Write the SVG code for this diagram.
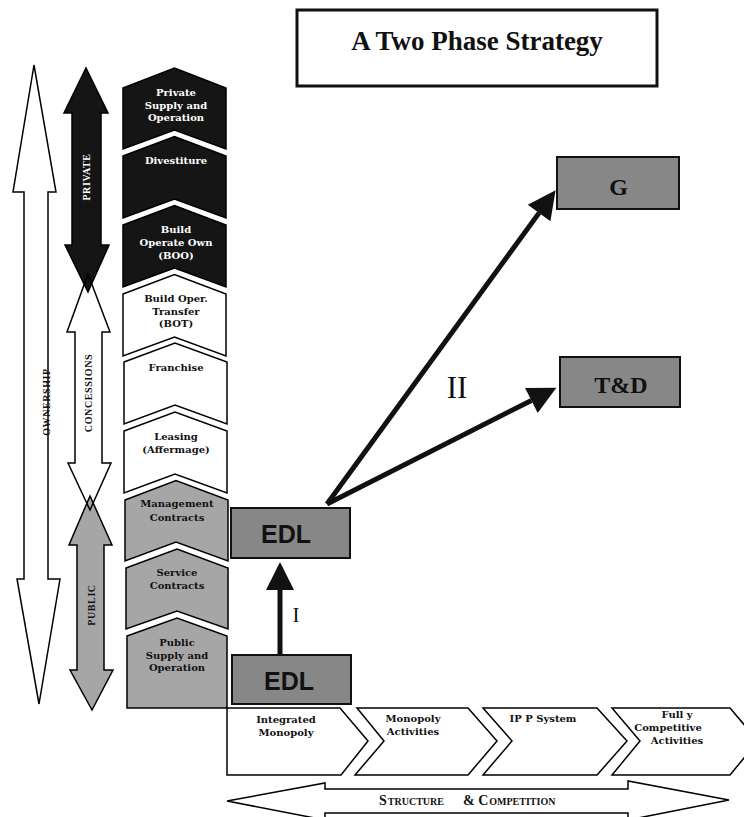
<svg xmlns="http://www.w3.org/2000/svg" width="744" height="817" viewBox="0 0 744 817">
<style>
.blk{fill:#151515;stroke:#000;stroke-width:1.5}
.wht{fill:#fff;stroke:#000;stroke-width:1.5}
.gry{fill:#a6a6a6;stroke:#000;stroke-width:1.5}
.dk{fill:#878787;stroke:#111;stroke-width:2}
.bt{font-family:"DejaVu Serif",serif;font-weight:bold;font-size:10px;text-anchor:middle}
.bw{fill:#fff}
.bb{fill:#111}
.ser{font-family:"Liberation Serif","Times New Roman",serif}
.lab{font-family:"Liberation Serif","Times New Roman",serif;font-weight:bold;font-size:10px;text-anchor:middle;letter-spacing:0.6px}
.edl{font-family:"Liberation Sans",Arial,sans-serif;font-weight:bold;font-size:25px;text-anchor:middle;fill:#111}
.gt{font-family:"Liberation Serif","Times New Roman",serif;font-weight:bold;font-size:24px;text-anchor:middle;fill:#111}
.con{stroke:#111;stroke-width:5;fill:none}
.out{fill:none;stroke:#000;stroke-width:1.5}
</style>
<defs>
<marker id="ah" viewBox="0 0 10 10" refX="0" refY="5" markerUnits="userSpaceOnUse" markerWidth="32" markerHeight="28" orient="auto">
<path d="M0,0 L10,5 L0,10 Z" fill="#111"/>
</marker>
</defs>
<rect width="744" height="817" fill="#fff"/>

<g id="title">
<rect x="297" y="10" width="360" height="76" fill="#fff" stroke="#111" stroke-width="3"/>
<text class="ser" x="477" y="50" font-weight="bold" font-size="27" text-anchor="middle" fill="#111">A Two Phase Strategy</text>
</g>

<g id="ownership-arrow">
<polygon points="34,65 56,192 48,192 48,579 60,579 39,704 17,579 24,579 24,192 13,192" fill="#fff" stroke="#000" stroke-width="1.5"/>
<text class="lab" transform="translate(46.5,402) rotate(-90)" y="3.5" fill="#111">OWNERSHIP</text>
</g>

<g id="side-arrows">
<polygon points="88,274 110,332 102,332 102,463 111,463 90,510 68,463 75,463 75,332 67,332" fill="#fff"/>
<polygon points="90,496 112,545 104,545 104,670 113,670 92,710 70,670 77,670 77,545 69,545" fill="#a6a6a6"/>
<polygon points="86,68 108,113 101,113 101,245 109,245 88,292 65,245 72,245 72,113 64,113" fill="#151515"/>
<polygon class="out" points="88,274 110,332 102,332 102,463 111,463 90,510 68,463 75,463 75,332 67,332"/>
<polygon class="out" points="90,496 112,545 104,545 104,670 113,670 92,710 70,670 77,670 77,545 69,545"/>
<polygon class="out" points="86,68 108,113 101,113 101,245 109,245 88,292 65,245 72,245 72,113 64,113"/>
<text class="lab" transform="translate(86,177) rotate(-90)" y="3.5" fill="#fff">PRIVATE</text>
<text class="lab" transform="translate(88.5,393) rotate(-90)" y="3.5" fill="#111">CONCESSIONS</text>
<text class="lab" transform="translate(91,605) rotate(-90)" y="3.5" fill="#111">PUBLIC</text>
</g>

<g id="private-supply">
<path class="blk" d="M123,88 L174.5,68 L226,88 L226,149 L174.5,130 L123,149 Z"/>
<text class="bt bw" x="176" y="96">Private</text>
<text class="bt bw" x="176" y="108.5">Supply and</text>
<text class="bt bw" x="176" y="121">Operation</text>
</g>
<g id="divestiture">
<path class="blk" d="M123,156 L174.5,136.5 L226,156 L226,218 L174.5,199 L123,218 Z"/>
<text class="bt bw" x="176" y="164">Divestiture</text>
</g>
<g id="boo">
<path class="blk" d="M123,225 L174.5,205.5 L226,225 L226,287 L174.5,268 L123,287 Z"/>
<text class="bt bw" x="176" y="233">Build</text>
<text class="bt bw" x="176" y="246">Operate Own</text>
<text class="bt bw" x="176" y="259">(BOO)</text>
</g>
<g id="bot">
<path class="wht" d="M123,294 L174.5,274.5 L226,294 L226,356 L174.5,337 L123,356 Z"/>
<text class="bt bb" x="176" y="302">Build Oper.</text>
<text class="bt bb" x="176" y="315">Transfer</text>
<text class="bt bb" x="176" y="327">(BOT)</text>
</g>
<g id="franchise">
<path class="wht" d="M124,362 L175,343 L227,362 L227,424 L175,405 L124,424 Z"/>
<text class="bt bb" x="176" y="371">Franchise</text>
</g>
<g id="leasing">
<path class="wht" d="M124,431 L175,412 L227,431 L227,493 L175,474 L124,493 Z"/>
<text class="bt bb" x="176" y="440">Leasing</text>
<text class="bt bb" x="176" y="453">(Affermage)</text>
</g>
<g id="management">
<path class="gry" d="M125,500 L176,480.5 L228,500 L228,561 L176,542 L125,561 Z"/>
<text class="bt bb" x="177" y="507">Management</text>
<text class="bt bb" x="177" y="521">Contracts</text>
</g>
<g id="service">
<path class="gry" d="M126,568 L177,549 L228,568 L228,629 L177,611 L126,629 Z"/>
<text class="bt bb" x="177" y="576">Service</text>
<text class="bt bb" x="177" y="589">Contracts</text>
</g>
<g id="public-supply">
<path class="gry" d="M127,636 L177,618 L227,636 L227,708 L127,708 Z"/>
<text class="bt bb" x="177" y="646">Public</text>
<text class="bt bb" x="177" y="659">Supply and</text>
<text class="bt bb" x="177" y="671">Operation</text>
</g>

<g id="integrated-monopoly">
<path class="wht" d="M227,708 L340,708 L368,741 L341,775 L227,775 Z"/>
<text class="bt bb" x="286" y="723">Integrated</text>
<text class="bt bb" x="286" y="736">Monopoly</text>
</g>
<g id="monopoly-activities">
<path class="wht" d="M357,708 L468,708 L497,741 L468,775 L355,775 L384,741 Z"/>
<text class="bt bb" x="413" y="722">Monopoly</text>
<text class="bt bb" x="413" y="735">Activities</text>
</g>
<g id="ipp-system">
<path class="wht" d="M483,708 L597,708 L627,741 L597,775 L483,775 L512,741 Z"/>
<text class="bt bb" x="543" y="722">IP P System</text>
</g>
<g id="fully-competitive">
<path class="wht" d="M612,708 L730,708 L758,741 L730,775 L612,775 L640,741 Z"/>
<text class="bt bb" x="677" y="718">Full y</text>
<text class="bt bb" x="668" y="731">Competitive</text>
<text class="bt bb" x="677" y="744">Activities</text>
</g>

<g id="structure-competition">
<polygon points="227,801 325,783 325,789 628,789 628,781 729,800 628,820 628,813 325,813 325,820" fill="#fff" stroke="#000" stroke-width="1.5"/>
<text class="ser" x="379" y="805" font-weight="bold" fill="#111"><tspan font-size="14">S</tspan><tspan font-size="10" dx="1">TRUCTURE</tspan><tspan x="463" font-size="14">&amp; C</tspan><tspan font-size="10" dx="1">OMPETITION</tspan></text>
</g>

<g id="edl-top">
<rect class="dk" x="231" y="508" width="119" height="50"/>
<text class="edl" x="286" y="543">EDL</text>
</g>
<g id="edl-bottom">
<rect class="dk" x="232" y="655" width="119" height="49"/>
<text class="edl" x="289" y="690">EDL</text>
</g>
<g id="g-node">
<rect class="dk" x="557" y="157" width="122" height="52"/>
<text class="gt" x="618.5" y="195">G</text>
</g>
<g id="td-node">
<rect class="dk" x="560" y="357" width="120" height="50"/>
<text class="gt" x="621" y="393">T&amp;D</text>
</g>

<g id="connectors">
<line class="con" x1="280" y1="655" x2="280" y2="590" marker-end="url(#ah)"/>
<line class="con" x1="327" y1="504" x2="539.1" y2="212.9" marker-end="url(#ah)"/>
<line class="con" x1="327" y1="504" x2="531.4" y2="400.4" marker-end="url(#ah)"/>
<text class="ser" x="296" y="622" font-size="21" text-anchor="middle" fill="#111">I</text>
<text class="ser" x="457" y="398" font-size="31" text-anchor="middle" fill="#111">II</text>
</g>
</svg>
